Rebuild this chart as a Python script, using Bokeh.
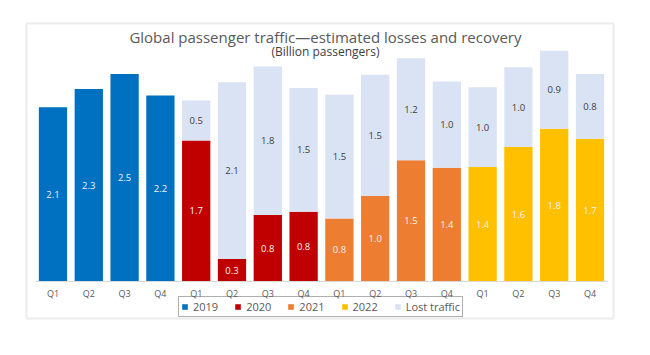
from bokeh.plotting import figure
from bokeh.models import ColumnDataSource, Range1d, FixedTicker, Legend, LegendItem
from bokeh.core.properties import value
from bokeh.embed import file_html
from bokeh.resources import INLINE

quarters = ["Q1", "Q2", "Q3", "Q4"] * 4
years = ["2019"] * 4 + ["2020"] * 4 + ["2021"] * 4 + ["2022"] * 4
actual = [2.10, 2.32, 2.50, 2.24,
          1.70, 0.27, 0.80, 0.84,
          0.76, 1.03, 1.46, 1.37,
          1.38, 1.62, 1.84, 1.72]
lost = [0.0, 0.0, 0.0, 0.0,
        0.48, 2.13, 1.79, 1.49,
        1.49, 1.46, 1.23, 1.04,
        0.96, 0.96, 0.94, 0.78]
year_colors = {"2019": "#0070C0", "2020": "#C00000", "2021": "#ED7D31", "2022": "#FFC000"}
lost_color = "#DAE3F3"
title_text = "Global passenger traffic\u2014estimated losses and recovery"
subtitle_text = "(Billion passengers)"

FONT = "Open Sans"
x = list(range(len(actual)))
src = ColumnDataSource(dict(
    x=x,
    actual=actual,
    lost=lost,
    total=[a + l for a, l in zip(actual, lost)],
    color=[year_colors[y] for y in years],
    amid=[a / 2 for a in actual],
    alabel=[f"{a:.1f}" for a in actual],
))
lx = [i for i, l in zip(x, lost) if l > 0]
lsrc = ColumnDataSource(dict(
    x=lx,
    lmid=[actual[i] + lost[i] / 2 for i in lx],
    llabel=[f"{lost[i]:.1f}" for i in lx],
))

p = figure(width=650, height=355, x_range=Range1d(-0.74, 15.656), y_range=Range1d(-0.4458, 3.108),
           output_backend="svg", toolbar_location=None, y_axis_type=None,
           min_border_left=26, min_border_right=37, min_border_top=23, min_border_bottom=37)
p.outline_line_color = "#ebebeb"
p.outline_line_width = 2
p.xgrid.visible = False
p.ygrid.visible = False
p.background_fill_color = "white"
p.border_fill_color = "white"

r_act = p.vbar(x="x", top="actual", width=0.79, fill_color="color", line_color=None, source=src)
r_lost = p.vbar(x="x", bottom="actual", top="total", width=0.79, fill_color=lost_color,
                line_color=None, source=src)

p.text(x="x", y="amid", text="alabel", source=src, text_align="center", text_baseline="middle",
       text_color="#F2F2F2", text_font_size="9.5px", text_font=value(FONT))
p.text(x="x", y="lmid", text="llabel", source=lsrc, text_align="center", text_baseline="middle",
       text_color="#404040", text_font_size="9.5px", text_font=value(FONT))

p.text(x=[7.61], y=[2.943], text=[title_text], text_align="center", text_baseline="middle",
       text_color="#595959", text_font_size="15px", text_font=value(FONT))
p.text(x=[7.61], y=[2.775], text=[subtitle_text], text_align="center", text_baseline="middle",
       text_color="#404040", text_font_size="12px", text_font=value(FONT))

ax = p.xaxis[0]
ax.fixed_location = 0
ax.bounds = (-0.5, 15.5)
ax.ticker = FixedTicker(ticks=x)
ax.major_label_overrides = {i: q for i, q in zip(x, quarters)}
ax.axis_line_color = "#d9d9d9"
ax.major_tick_line_color = None
ax.minor_tick_line_color = None
ax.major_label_standoff = 0
ax.major_label_text_color = "#595959"
ax.major_label_text_font = FONT
ax.major_label_text_font_size = "9px"

items = [LegendItem(label=y, renderers=[r_act], index=i * 4) for i, y in enumerate(["2019", "2020", "2021", "2022"])]
items.append(LegendItem(label="Lost traffic", renderers=[r_lost], index=4))
legend = Legend(items=items, orientation="horizontal", location=(152, 1),
                border_line_color="#606060", border_line_width=1, padding=2, spacing=16,
                label_standoff=5, glyph_width=7, glyph_height=7, margin=0,
                label_text_font=FONT, label_text_font_size="11px", label_text_color="#595959",
                background_fill_alpha=0.0)
p.add_layout(legend)

open("out.html", "w").write(file_html(p, INLINE))
